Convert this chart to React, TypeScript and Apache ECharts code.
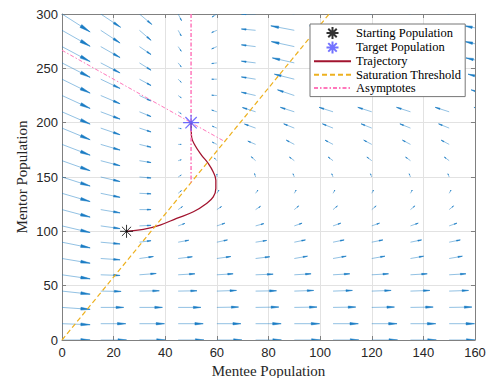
import React, { useEffect, useRef } from "react";
import * as echarts from "echarts";

// Quiver grid
const xCols = [0, 15, 30, 45, 60, 75, 90, 105, 120, 135, 150, 165];
const yRows = [0, 15, 30, 45, 60, 75, 90, 105, 120, 135, 150, 165, 180, 195, 210, 225, 240, 255, 270, 285, 300];

// Arrow components (data units) per column, rows from y=0 to y=300
const u0 = [10.9, 10.9, 10.9, 10.9, 10.9, 10.9, 10.9, 10.9, 10.9, 10.9, 10.9, 10.9, 10.9, 10.9, 10.9, 10.9, 10.9, 10.9, 10.9, 10.9, 10.9];
const v0 = [0, -0.9, -1.8, -2.8, -3.7, -4.3, -5.2, -6.1, -6.9, -7.6, -8.3, -9.2, -9.9, -10.7, -11.3, -11.9, -12.8, -13.3, -13.8, -14.7, -16.5];
const u15 = [10.0, 9.7, 8.9, 7.9, 7.5, 7.5, 7.5, 7.5, 7.5, 7.5, 7.5, 7.5, 7.5, 7.5, 7.5, 7.5, 7.5, 7.5, 7.5, 7.5, 7.7];
const v15 = [0, 0, 0, -0.3, -0.6, -1.2, -1.6, -2.5, -3.0, -3.7, -4.2, -4.6, -5.2, -6.1, -6.7, -7.6, -8.5, -9.2, -10.1, -11.7, -12.2];
const u30 = [10.0, 9.7, 8.9, 7.7, 6.5, 5.4, 4.5, 4.5, 4.5, 4.5, 4.5, 4.5, 4.5, 4.5, 4.5, 4.5, 4.5, 4.5, 4.5, 4.5, 4.8];
const v30 = [0, 0, 0, 0.3, 1.2, 1.8, 1.4, 0.5, 0, -0.5, -0.9, -1.7, -2.6, -3.5, -4.4, -5.0, -5.8, -6.7, -7.3, -9.2, -9.6];
const u45 = [10.0, 9.7, 8.8, 7.3, 6.5, 5.5, 4.1, 2.6, 1.7, 1.3, 1.2, 1.2, 1.2, 1.2, 1.2, 1.2, 1.2, 1.2, 1.2, 1.2, 1.3];
const v45 = [0, 0, 0, 0.3, 0.9, 1.6, 1.8, 2.3, 2.8, 2.5, 1.8, 0.9, 0, -0.5, -1.8, -2.1, -2.9, -3.7, -4.3, -5.2, -6.1];
const u60 = [9.7, 9.3, 8.4, 7.6, 6.3, 5.4, 4.1, 3.1, 1.8, 0.8, 0, -1.0, -1.8, -1.8, -2.0, -2.0, -2.0, -2.0, -2.0, -2.0, -1.9];
const v60 = [0, 0, 0.3, 0.6, 0.9, 1.8, 2.1, 2.5, 2.8, 3.0, 2.8, 2.5, 2.1, 1.8, 1.6, 0.3, 0, -0.6, -2.1, -2.1, -2.8];
const u75 = [10.0, 9.9, 9.0, 8.1, 6.8, 5.5, 4.3, 3.2, 1.9, 0.9, -0.4, -1.7, -3.0, -4.3, -5.1, -5.5, -5.5, -5.5, -5.5, -5.5, -5.5];
const v75 = [0, 0, 0.3, 0.3, 0.6, 1.6, 1.6, 2.1, 3.0, 3.0, 3.2, 3.7, 3.0, 3.7, 3.9, 3.0, 2.1, 1.6, 1.6, 1.2, 0];
const uFar = [10.0, 9.8, 8.8, 7.5, 6.5, 5.1, 4.3, 3.0, 1.7, 0.7, -0.5, -1.9, -3.1, -4.1, -5.4, -6.5, -7.7, -8.5, -8.9, -9.1, -9.3];
const vFar = [0, 0, 0.3, 0.6, 0.9, 2.1, 2.1, 2.5, 3.4, 3.0, 3.0, 3.4, 3.9, 3.9, 4.1, 5.2, 4.6, 4.6, 4.6, 4.1, 4.6];

const colU = [u0, u15, u30, u45, u60, u75, uFar, uFar, uFar, uFar, uFar, uFar];
const colV = [v0, v15, v30, v45, v60, v75, vFar, vFar, vFar, vFar, vFar, vFar];

// Trajectory (mentee, mentor)
const trajectory = [
  [25, 100], [31.5, 101.8], [38, 105.8], [44.4, 111.9], [50.9, 118], [56, 125.7],
  [58.6, 131.7], [59.6, 139.4], [59.6, 147], [58.6, 154.7], [56.7, 162.4], [54.1, 170],
  [51.5, 179.2], [50.2, 186.8], [50, 200],
];
const saturation = [[0, 0], [103.5, 300]];
const asymptoteVertical = [[50, 300], [50, 145]];
const asymptoteDiagonal = [[0, 266.6], [63, 182.7]];
const startPoint = [[25, 100]];
const targetPoint = [[50, 200]];

const xTicks = { min: 0, max: 160, interval: 20 };
const yTicks = { min: 0, max: 300, interval: 50 };

const STAR = "path://M0,-10L0,10M-10,0L10,0M-7.07,-7.07L7.07,7.07M-7.07,7.07L7.07,-7.07";

export default function App() {
  const ref = useRef<HTMLDivElement>(null);
  useEffect(() => {
    document.body.style.margin = "0";
    const chart = echarts.init(ref.current!, undefined, { renderer: "svg" });
    const quiverData: number[][] = [];
    xCols.forEach((x, i) => {
      yRows.forEach((y, j) => {
        quiverData.push([x, y, colU[i][j], colV[i][j]]);
      });
    });
    const axisColor = "#808080";
    const labelStyle = { color: "#262626", fontFamily: "Liberation Sans", fontSize: 13 };
    const quiverColor = "#1a7cc4";
    const hideIcon = { itemStyle: { color: "rgba(0,0,0,0)", borderWidth: 0, borderColor: "rgba(0,0,0,0)" } };
    chart.setOption({
      animation: false,
      grid: { left: 62, right: 16, top: 14, bottom: 38, show: false, outerBoundsMode: "none", containLabel: false },
      xAxis: [
        {
          type: "value", ...xTicks, position: "bottom",
          name: "Mentee Population", nameLocation: "middle", nameGap: 21,
          nameTextStyle: { fontFamily: "Liberation Serif", fontSize: 15, color: "#262626" },
          axisLine: { show: true, onZero: false, lineStyle: { color: axisColor, width: 1 } },
          axisTick: { show: true, inside: true, length: 4, lineStyle: { color: axisColor } },
          axisLabel: { ...labelStyle, margin: 6 },
          splitLine: { show: true, lineStyle: { color: "#e2e2e2", width: 1 } },
        },
        {
          type: "value", ...xTicks, position: "top",
          axisLine: { show: true, onZero: false, lineStyle: { color: axisColor, width: 1 } },
          axisTick: { show: true, inside: true, length: 4, lineStyle: { color: axisColor } },
          axisLabel: { show: false },
          splitLine: { show: false },
        },
      ],
      yAxis: [
        {
          type: "value", ...yTicks, position: "left",
          name: "Mentor Population", nameLocation: "middle", nameGap: 33, nameRotate: 90, nameMoveOverlap: false,
          nameTextStyle: { fontFamily: "Liberation Serif", fontSize: 15, color: "#262626" },
          axisLine: { show: true, onZero: false, lineStyle: { color: axisColor, width: 1 } },
          axisTick: { show: true, inside: true, length: 4, lineStyle: { color: axisColor } },
          axisLabel: { ...labelStyle, margin: 4 },
          splitLine: { show: true, lineStyle: { color: "#e2e2e2", width: 1 } },
        },
        {
          type: "value", ...yTicks, position: "right",
          axisLine: { show: true, onZero: false, lineStyle: { color: axisColor, width: 1 } },
          axisTick: { show: true, inside: true, length: 4, lineStyle: { color: axisColor } },
          axisLabel: { show: false },
          splitLine: { show: false },
        },
      ],
      legend: {
        orient: "vertical", left: 310, top: 24,
        backgroundColor: "#ffffff", borderColor: "#777777", borderWidth: 1,
        padding: [2, 4, 2, 3], itemGap: 0.4, itemWidth: 37, itemHeight: 12,
        textStyle: { fontFamily: "Liberation Serif", fontSize: 12.5, color: "#000", lineHeight: 12 },
        data: [
          { name: "Starting Population" },
          { name: "Target Population" },
          { name: "Trajectory", ...hideIcon },
          { name: "Saturation Threshold", ...hideIcon },
          { name: "Asymptotes", ...hideIcon },
        ],
      },
      series: [
        {
          type: "custom", name: "Field", clip: true,
          data: quiverData, encode: { x: 0, y: 1 },
          silent: true, z: 1,
          renderItem: (params: any, api: any) => {
            const x = api.value(0), y = api.value(1), u = api.value(2), v = api.value(3);
            const p0 = api.coord([x, y]);
            const p1 = api.coord([x + u, y + v]);
            const dx = p1[0] - p0[0], dy = p1[1] - p0[1];
            const a = 0.33, b = 0.15;
            const h1 = [p1[0] - a * (dx + b * dy), p1[1] - a * (dy - b * dx)];
            const h2 = [p1[0] - a * (dx - b * dy), p1[1] - a * (dy + b * dx)];
            return {
              type: "group",
              children: [
                { type: "line", shape: { x1: p0[0], y1: p0[1], x2: p1[0], y2: p1[1] }, style: { stroke: quiverColor, lineWidth: 0.6, opacity: 0.8 } },
                { type: "polygon", shape: { points: [h1, p1, h2] }, style: { stroke: quiverColor, fill: quiverColor, lineWidth: 0.5 } },
              ],
            };
          },
        },
        {
          type: "line", name: "Trajectory", data: trajectory, smooth: 0.4, symbol: "none", z: 3,
          lineStyle: { color: "#A2142F", width: 1.3 }, itemStyle: { color: "#A2142F" },
        },
        {
          type: "line", name: "Saturation Threshold", data: saturation, symbol: "none", z: 3,
          lineStyle: { color: "#EDB120", width: 1.2, type: [5, 3] }, itemStyle: { color: "#EDB120" },
        },
        {
          type: "line", name: "Asymptotes", data: asymptoteVertical, symbol: "none", z: 3,
          lineStyle: { color: "#FF77BB", width: 1.5, type: [4, 2, 1.5, 2] }, itemStyle: { color: "#FF77BB" },
        },
        {
          type: "line", name: "Asymptotes", data: asymptoteDiagonal, symbol: "none", z: 3,
          lineStyle: { color: "#FF77BB", width: 1, type: [4, 2, 1.5, 2] }, itemStyle: { color: "#FF77BB" },
        },
        {
          type: "scatter", name: "Starting Population", data: startPoint, symbol: STAR, symbolSize: 13, symbolKeepAspect: true, z: 4,
          itemStyle: { color: "rgba(0,0,0,0)", borderColor: "#000000", borderWidth: 1 },
        },
        {
          type: "scatter", name: "Target Population", data: targetPoint, symbol: STAR, symbolSize: 16, symbolKeepAspect: true, z: 4,
          itemStyle: { color: "rgba(0,0,0,0)", borderColor: "#4D4DFF", borderWidth: 1.2 },
        },
      ],
    });
    return () => chart.dispose();
  }, []);
  return <div ref={ref} style={{ position: "absolute", left: 0, top: 0, width: 491, height: 378 }} />;
}
